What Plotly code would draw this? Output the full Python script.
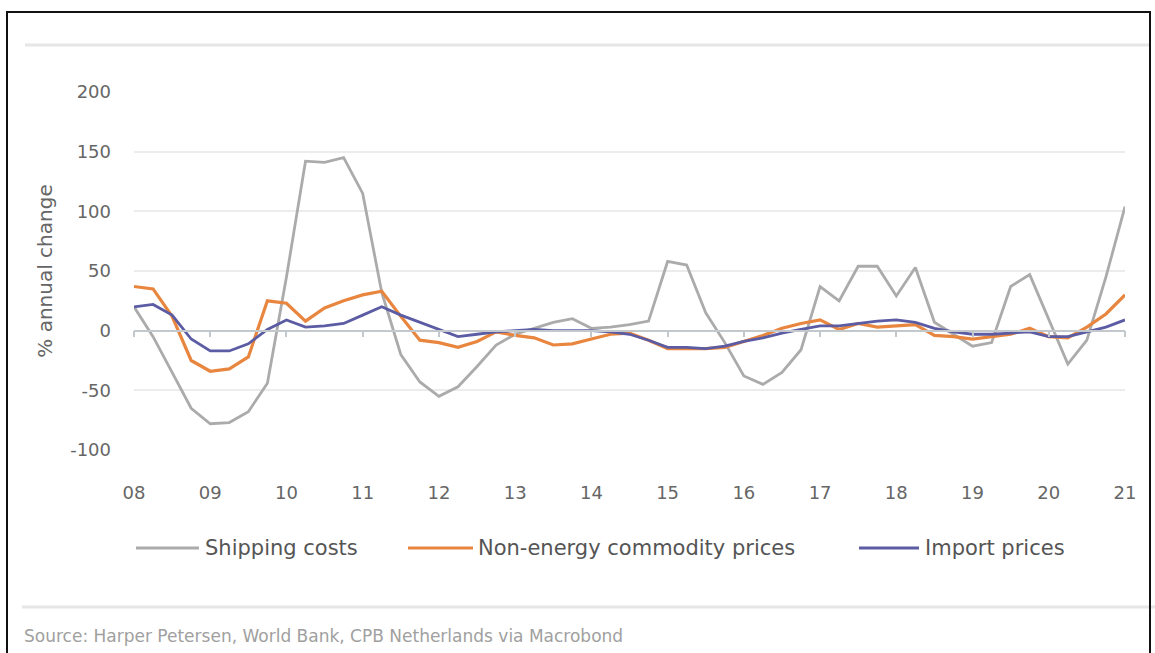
import pandas as pd
import plotly.graph_objects as go

# Quarterly observations, 2008Q1 .. 2021Q1
quarters = pd.date_range("2008-01-01", "2021-01-01", freq="QS")
years = [d.year + (d.month - 1) / 12 for d in quarters]

shipping_costs = [20, -5, -35, -65,
                  -78, -77, -68, -44,
                  45, 142, 141, 145,
                  115, 32, -20, -43,
                  -55, -47, -30, -12,
                  -3, 2, 7, 10,
                  2, 3, 5, 8,
                  58, 55, 15, -10,
                  -38, -45, -35, -16,
                  37, 25, 54, 54,
                  29, 53, 7, -3,
                  -13, -10, 37, 47,
                  10, -28, -8, 45,
                  104]

non_energy_commodity = [37, 35, 12, -25,
                        -34, -32, -22, 25,
                        23, 8, 19, 25,
                        30, 33, 12, -8,
                        -10, -14, -9, -1,
                        -4, -6, -12, -11,
                        -7, -3, -2, -8,
                        -15, -15, -15, -14,
                        -9, -4, 2, 6,
                        9, 1, 6, 3,
                        4, 5, -4, -5,
                        -7, -5, -3, 2,
                        -5, -6, 3, 14,
                        30]

import_prices = [20, 22, 13, -7,
                 -17, -17, -11, 1,
                 9, 3, 4, 6,
                 13, 20, 13, 7,
                 1, -5, -3, -1,
                 0, 1, 0, 0,
                 0, -1, -3, -8,
                 -14, -14, -15, -13,
                 -9, -6, -2, 1,
                 4, 4, 6, 8,
                 9, 7, 2, -1,
                 -3, -3, -2, -1,
                 -5, -5, -1, 3,
                 9]

x_tick_vals = list(range(2008, 2022))
x_tick_text = ["08", "09", "10", "11", "12", "13", "14", "15", "16", "17", "18", "19", "20", "21"]
y_tick_vals = [-100, -50, 0, 50, 100, 150, 200]
y_tick_text = ["-100", "-50", "0", "50", "100", "150", "200"]

series_names = ["Shipping costs", "Non-energy commodity prices", "Import prices"]
series_colors = ["#ababab", "#e8863f", "#5b5ca3"]
series_widths = [2.8, 3.2, 2.8]

W, H = 1155, 653
L, R, T, B = 134, 30, 92, 203
pw, ph = W - L - R, H - T - B

def px(x):
    return (x - L) / pw

def py(y):
    return (H - B - y) / ph

fig = go.Figure()
for name, vals, col, w in zip(series_names,
                              [shipping_costs, non_energy_commodity, import_prices],
                              series_colors, series_widths):
    fig.add_trace(go.Scatter(x=years, y=vals, mode="lines", name=name,
                             line=dict(color=col, width=w), showlegend=False))

font_family = "DejaVu Sans"

fig.update_layout(
    width=W, height=H,
    margin=dict(l=L, r=R, t=T, b=B),
    paper_bgcolor="white", plot_bgcolor="white",
    font=dict(family=font_family, color="#666666", size=18),
    showlegend=False,
    xaxis=dict(range=[2008, 2021], tickvals=x_tick_vals, ticktext=x_tick_text,
               showgrid=False, zeroline=False, showline=False, ticks="",
               ticklabelstandoff=30, tickfont=dict(size=18, color="#666666")),
    xaxis2=dict(range=[2008, 2021], overlaying="x", anchor="free", position=1/3,
                tickvals=x_tick_vals, showticklabels=False, ticks="outside", ticklen=6,
                tickcolor="#c3c8cc", tickwidth=1.5, showline=True, linecolor="#c3c8cc",
                linewidth=1.5, showgrid=False, zeroline=False),
    yaxis=dict(range=[-100, 200], tickvals=y_tick_vals, ticktext=y_tick_text,
               showgrid=True, gridcolor="#ececec", gridwidth=2, zeroline=False,
               showline=False, ticks="", ticklabelstandoff=22,
               tickfont=dict(size=18, color="#666666"),
               title=dict(text="% annual change", font=dict(size=20, color="#666666"),
                          standoff=12)),
)

# invisible helper trace to make xaxis2 render
fig.add_trace(go.Scatter(x=[2008], y=[0], xaxis="x2", mode="markers",
                         marker=dict(opacity=0), showlegend=False, hoverinfo="skip"))

shapes = [
    dict(type="line", xref="paper", yref="paper", x0=px(25), x1=px(1150), y0=py(45), y1=py(45),
         line=dict(color="#e6e6e6", width=3)),
    dict(type="line", xref="paper", yref="paper", x0=px(22), x1=px(1155), y0=py(607), y1=py(607),
         line=dict(color="#e6e6e6", width=3)),
    dict(type="rect", xref="paper", yref="paper", x0=px(7), x1=px(1150), y0=py(12), y1=py(660),
         line=dict(color="#111111", width=2)),
]

# custom legend (line sample + label)
legend_pos = [(136, 199, 203), (408, 473, 476), (859, 919, 923)]
legend_y = 548
for (x0, x1, xt), name, col, w in zip(legend_pos, series_names, series_colors, series_widths):
    shapes.append(dict(type="line", xref="paper", yref="paper", x0=px(x0), x1=px(x1),
                       y0=py(legend_y), y1=py(legend_y), line=dict(color=col, width=w)))
    fig.add_annotation(text=name, xref="paper", yref="paper", x=px(xt), y=py(legend_y),
                       xanchor="left", yanchor="middle", showarrow=False,
                       font=dict(size=21, color="#555555", family=font_family))

fig.update_layout(shapes=shapes)

fig.add_annotation(text="Source: Harper Petersen, World Bank, CPB Netherlands via Macrobond",
                   xref="paper", yref="paper", x=px(22), y=py(636), xanchor="left", yanchor="middle",
                   showarrow=False, font=dict(size=17, color="#a0a0a0", family=font_family))

fig.write_html("out.html")
